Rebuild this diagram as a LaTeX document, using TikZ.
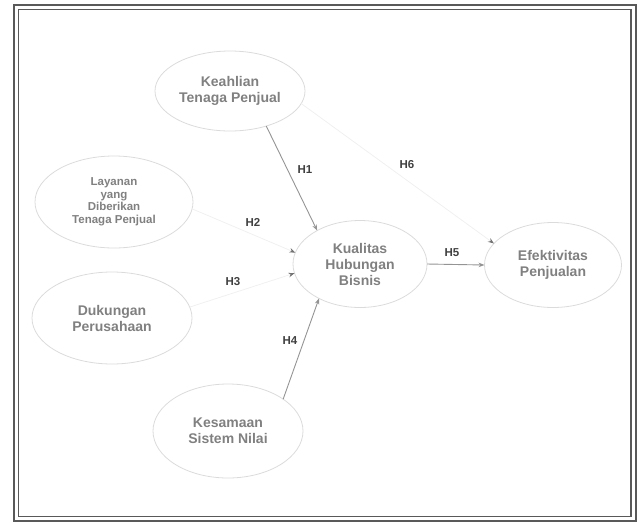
\documentclass[tikz,border=0pt]{standalone}
\usepackage{fontspec}
\setmainfont{Liberation Sans}
\usetikzlibrary{shapes.geometric, arrows.meta}
\tikzset{
    >={Stealth[length=6pt,width=4.5pt]}, % arrow heads
    construct/.style={ellipse, draw=black!14, line width=0.8pt, inner sep=0pt, outer sep=0pt, align=center, text=black!50, font=\bfseries\fontsize{14}{16}\selectfont}, % latent variables
    hyp/.style={->, draw=black!42, line width=0.9pt}, % hypothesis paths
    fadedhyp/.style={-{Stealth[length=6pt,width=4.5pt,color=black!55]}, draw=black!6, line width=0.8pt}, % paths lost in the scan
    hlabel/.style={text=black!75, font=\bfseries\fontsize{11.5}{13}\selectfont} % hypothesis labels
}

\begin{document}
\begin{tikzpicture}[x=1pt, y=-1pt]
		\useasboundingbox (0,0) rectangle (640,523);
		% Bingkai
		\draw[black!65, line width=2pt] (14,5) rectangle (636,520.5);
		\draw[black!65, line width=1.2pt] (18.5,9.5) rectangle (631,516.5);

		% Variabel
		\node[construct, minimum width=150pt, minimum height=80pt] (KTP) at (230,91) {Keahlian\\Tenaga Penjual};
		\node[construct, minimum width=158pt, minimum height=92pt, font=\bfseries\fontsize{11.5}{12.5}\selectfont] (LTP) at (114,202) {Layanan\\yang\\Diberikan\\Tenaga Penjual};
		\node[construct, minimum width=160pt, minimum height=92pt] (DP) at (112,318) {Dukungan\\Perusahaan};
		\node[construct, minimum width=150pt, minimum height=94pt] (KSN) at (228,431) {Kesamaan\\Sistem Nilai};
		\node[construct, minimum width=134pt, minimum height=87pt] (KHB) at (360,264) {Kualitas\\Hubungan\\Bisnis};
		\node[construct, minimum width=137pt, minimum height=85pt] (EP) at (553,265) {Efektivitas\\Penjualan};

		% Hipotesis
		\draw[hyp] (KTP.-44) -- (KHB.142);
		\draw[fadedhyp] (LTP.-5) -- (KHB.170);
		\draw[fadedhyp] (DP.8) -- (KHB.188);
		\draw[hyp] (KSN.30) -- (KHB.220);
		\draw[hyp] (KHB.0) -- (EP.180);
		\draw[fadedhyp] (KTP.-10) -- (EP.160);

		\node[hlabel] (H1) at (305,170) {H1};
		\node[hlabel] (H2) at (253,222) {H2};
		\node[hlabel] (H3) at (233,282) {H3};
		\node[hlabel] (H4) at (290,341) {H4};
		\node[hlabel] (H5) at (452,253) {H5};
		\node[hlabel] (H6) at (407,165) {H6};
	\end{tikzpicture}
\end{document}
